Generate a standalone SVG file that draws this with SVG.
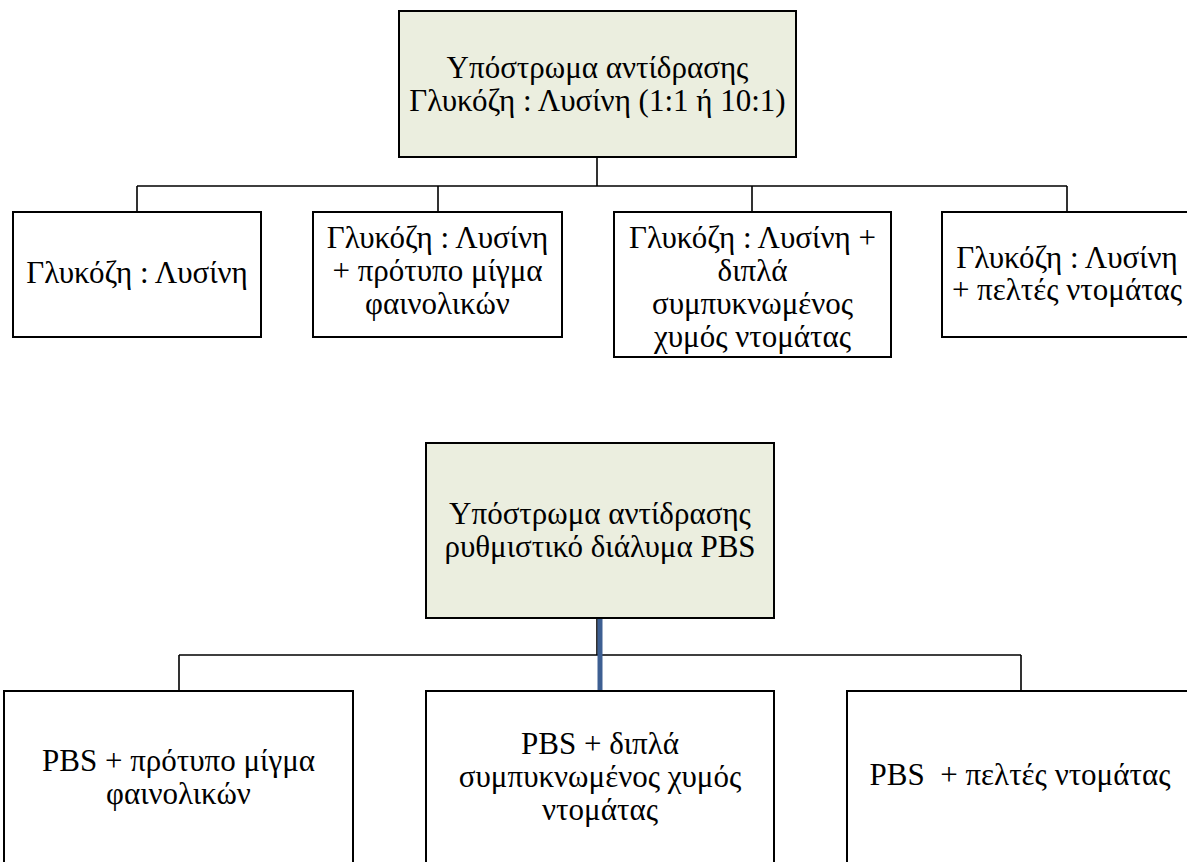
<svg xmlns="http://www.w3.org/2000/svg" width="1187" height="862" viewBox="0 0 1187 862">
<style>
.box{fill:#ffffff;stroke:#000000;stroke-width:2}
.root{fill:#ebeedf;stroke:#000000;stroke-width:2}
.t{fill:#000000;text-anchor:middle}
.c{fill:none;stroke:#000000;stroke-width:1.6}
.blue{fill:none;stroke:#3d5f92;stroke-width:5}
</style>
<rect width="1187" height="862" fill="#ffffff"/>
<g id="connectors">
<path class="c" d="M597 157V186M137 186H1067M137 186V212M438 186V212M752 186V212M1067 186V212"/>
<path class="c" d="M597 618V655M179 655H1021M179 655V691M1021 655V691"/>
<path class="blue" d="M600 618V691"/>
</g>
<g font-family="Liberation Serif, Times New Roman, serif" font-size="31">
<g id="root1">
<rect class="root" x="399" y="11" width="397" height="146"/>
<text class="t" x="597.5" y="78">Υπόστρωμα αντίδρασης</text>
<text class="t" x="597.5" y="111">Γλυκόζη : Λυσίνη (1:1 ή 10:1)</text>
</g>
<g id="n1">
<rect class="box" x="13" y="212" width="248" height="125"/>
<text class="t" x="137" y="283">Γλυκόζη : Λυσίνη</text>
</g>
<g id="n2">
<rect class="box" x="313" y="212" width="249" height="125"/>
<text class="t" x="437.5" y="248">Γλυκόζη : Λυσίνη</text>
<text class="t" x="437.5" y="281">+ πρότυπο μίγμα</text>
<text class="t" x="437.5" y="314">φαινολικών</text>
</g>
<g id="n3">
<rect class="box" x="614" y="212" width="277" height="145"/>
<text class="t" x="752.5" y="248">Γλυκόζη : Λυσίνη +</text>
<text class="t" x="752.5" y="281">διπλά</text>
<text class="t" x="752.5" y="314">συμπυκνωμένος</text>
<text class="t" x="752.5" y="347">χυμός ντομάτας</text>
</g>
<g id="n4">
<rect class="box" x="942" y="212" width="250" height="125"/>
<text class="t" x="1067" y="268">Γλυκόζη : Λυσίνη</text>
<text class="t" x="1067" y="300">+ πελτές ντομάτας</text>
</g>
<g id="root2">
<rect class="root" x="426" y="443" width="348" height="175"/>
<text class="t" x="600" y="524">Υπόστρωμα αντίδρασης</text>
<text class="t" x="600" y="557">ρυθμιστικό διάλυμα PBS</text>
</g>
<g id="m1">
<rect class="box" x="4" y="691" width="349" height="185"/>
<text class="t" x="178.5" y="771">PBS + πρότυπο μίγμα</text>
<text class="t" x="178.5" y="804">φαινολικών</text>
</g>
<g id="m2">
<rect class="box" x="426" y="691" width="348" height="185"/>
<text class="t" x="600" y="754">PBS + διπλά</text>
<text class="t" x="600" y="787">συμπυκνωμένος χυμός</text>
<text class="t" x="600" y="820">ντομάτας</text>
</g>
<g id="m3">
<rect class="box" x="847" y="691" width="349" height="185"/>
<text class="t" x="1020" y="785" xml:space="preserve">PBS  + πελτές ντομάτας</text>
</g>
</g>
</svg>
